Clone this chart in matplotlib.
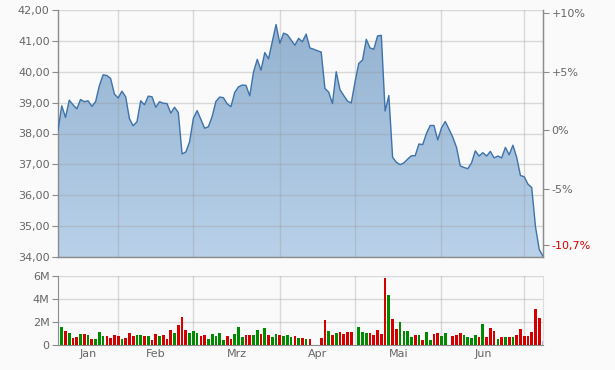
import numpy as np
import matplotlib
matplotlib.use("Agg")
import matplotlib.pyplot as plt
from matplotlib.patches import Polygon
from matplotlib.colors import LinearSegmentedColormap

# ---------------- data ----------------
prices = [
    38.10, 38.90, 38.52, 39.08, 38.93, 38.80, 39.10, 39.03, 39.06, 38.88,
    39.03, 39.55, 39.90, 39.88, 39.78, 39.28, 39.15, 39.37, 39.19, 38.48,
    38.25, 38.38, 39.06, 38.93, 39.21, 39.19, 38.85, 39.03, 38.98, 38.97,
    38.66, 38.85, 38.68, 37.34, 37.40, 37.73, 38.49, 38.74, 38.46, 38.17,
    38.22, 38.55, 39.04, 39.18, 39.16, 38.96, 38.87, 39.33, 39.51, 39.57,
    39.56, 39.22, 39.99, 40.40, 40.05, 40.62, 40.42, 40.98, 41.53, 40.92,
    41.25, 41.20, 41.03, 40.86, 41.08, 40.97, 41.22, 40.77, 40.73, 40.68,
    40.64, 39.46, 39.34, 38.97, 40.00, 39.42, 39.23, 39.05, 38.99, 39.67,
    40.27, 40.38, 41.05, 40.77, 40.73, 41.16, 41.18, 38.73, 39.23, 37.23,
    37.07, 36.99, 37.05, 37.17, 37.28, 37.28, 37.66, 37.64, 38.00, 38.26,
    38.26, 37.79, 38.18, 38.39, 38.14, 37.88, 37.55, 36.95, 36.90, 36.86,
    37.05, 37.44, 37.27, 37.38, 37.27, 37.42, 37.21, 37.27, 37.21, 37.55,
    37.31, 37.62, 37.23, 36.64, 36.60, 36.36, 36.25, 34.98, 34.24, 34.03,
]

# volume in millions for trading days 1..129
volumes_m = [
    1.59, 1.19, 1.07, 0.64, 0.72, 0.99, 0.99, 0.90, 0.55, 0.55,
    1.16, 0.81, 0.81, 0.64, 0.90, 0.81, 0.55, 0.64, 1.07, 0.81,
    0.90, 0.90, 0.81, 0.81, 0.46, 0.99, 0.81, 0.90, 0.55, 1.33,
    1.07, 1.77, 2.46, 1.33, 1.07, 1.25, 1.07, 0.81, 0.90, 0.55,
    0.99, 0.81, 1.07, 0.46, 0.81, 0.55, 0.99, 1.59, 0.72, 0.90,
    0.90, 0.90, 1.33, 0.99, 1.51, 0.90, 0.72, 0.99, 0.90, 0.81,
    0.90, 0.72, 0.81, 0.64, 0.64, 0.55, 0.55, 0.00, 0.00, 0.64,
    2.20, 1.25, 0.90, 1.07, 1.16, 0.99, 1.16, 1.16, 0.00, 1.59,
    1.16, 1.07, 1.07, 0.90, 1.33, 0.99, 5.86, 4.38, 2.29, 1.42,
    2.03, 1.25, 1.25, 0.72, 0.90, 0.90, 0.46, 1.16, 0.46, 0.99,
    1.07, 0.81, 1.07, 0.00, 0.81, 0.90, 1.07, 0.90, 0.72, 0.64,
    0.90, 0.72, 1.86, 0.72, 1.51, 1.25, 0.55, 0.72, 0.72, 0.72,
    0.72, 0.90, 1.42, 0.81, 0.81, 1.16, 3.16, 2.38, 0.38,
]
# G = up day, R = down day, B = current day, - = no trading
vol_dir = (
    "GRGRRGRGRG" "GGRRRRGRRR" "GGRGRRGRRR" "GRRRGGGRRG" "GGGGRRGGGR"
    "RGGRGRGGRG" "GGRGRGR--R" "RGRGRRRR-G" "GGRRRRRGRR" "GGGGRGRGGR"
    "RGG-RRRGGG" "GRGRRRGRGR" "GRRRRRRRB"
)

month_labels = ["Jan", "Feb", "Mrz", "Apr", "Mai", "Jun"]
month_starts = [16, 36, 59, 79, 102, 124]   # trading-day index of first day of month
pct_levels = [10, 5, 0, -5]

# ---------------- style ----------------
BG = "#fafafa"
GRID = "#999999"
SPINE = "#8c8c8c"
TXT = "#666666"
LINE = "#3d72ab"
dir_colors = {"G": "#008a00", "R": "#d40000", "B": "#9dbde0", "-": "#ffffff"}

plt.rcParams["font.family"] = ["DejaVu Sans"]
plt.rcParams["font.size"] = 8

W, H = 615, 370
fig = plt.figure(figsize=(W / 100, H / 100), dpi=100, facecolor=BG)
ax = fig.add_axes([58 / W, 1 - 257 / H, 485 / W, 247 / H])
axv = fig.add_axes([58 / W, 1 - 345 / H, 485 / W, 69 / H])

n = len(prices)
x = np.arange(n)
ylo, yhi = 34, 42

# ---------------- price panel ----------------
ax.set_facecolor(BG)
ax.set_xlim(0, n - 1)
ax.set_ylim(ylo, yhi)

verts = [(0, ylo)] + list(zip(x, prices)) + [(n - 1, ylo)]
poly = Polygon(verts, closed=True, facecolor="none", edgecolor="none")
ax.add_patch(poly)
cmap = LinearSegmentedColormap.from_list("g", ["#92b1d0", "#b9d1e9"])
grad = np.linspace(0, 1, 256).reshape(-1, 1)
im = ax.imshow(grad, extent=[0, n - 1, ylo, yhi], aspect="auto", cmap=cmap,
               origin="upper", zorder=1, interpolation="bilinear")
im.set_clip_path(poly)
ax.plot(x, prices, color=LINE, lw=1.0, zorder=3)

for yv in range(ylo, yhi + 1):
    ax.axhline(yv, color=GRID, lw=1, alpha=0.35, zorder=2)
for xm in month_starts:
    ax.axvline(xm, color=GRID, lw=1, alpha=0.35, zorder=2)

ax.set_yticks(range(ylo, yhi + 1))
ax.set_yticklabels([f"{v:.2f}".replace(".", ",") for v in range(ylo, yhi + 1)])
ax.set_xticks([])
ax.tick_params(axis="y", direction="out", length=4, color=SPINE, labelcolor=TXT,
               labelsize=8, pad=2)
ax.spines["top"].set_visible(False)
for s in ("left", "bottom", "right"):
    ax.spines[s].set_color(SPINE)
    ax.spines[s].set_linewidth(1)

# right percentage axis
ref = prices[0]
last_pct = (prices[-1] / ref - 1) * 100
axr = ax.twinx()
axr.set_ylim(ylo, yhi)
r_pos = [ref * (1 + p / 100) for p in pct_levels]
r_lab = [("+" if p > 0 else "") + f"{p}%" for p in pct_levels]
last_pos = max(prices[-1], ylo + 0.38)
axr.set_yticks(r_pos + [last_pos])
axr.set_yticklabels(r_lab + [f"{last_pct:.1f}%".replace(".", ",")])
axr.tick_params(axis="y", direction="out", length=4, color=SPINE, labelcolor=TXT,
                labelsize=8, pad=2)
axr.get_yticklabels()[-1].set_color("#d40000")
for s in ("top", "left", "bottom"):
    axr.spines[s].set_visible(False)
axr.spines["right"].set_color(SPINE)

# ---------------- volume panel ----------------
axv.set_facecolor(BG)
axv.set_xlim(0, n - 1)
axv.set_ylim(0, 6e6)
vx = np.arange(1, len(volumes_m) + 1)
vcol = [dir_colors[c] for c in vol_dir]
axv.bar(vx, np.array(volumes_m) * 1e6, width=0.72, color=vcol, zorder=3, linewidth=0)

for yv in (2e6, 4e6, 6e6):
    axv.axhline(yv, color=GRID, lw=1, alpha=0.35, zorder=1)
for xm in month_starts:
    axv.axvline(xm, color=GRID, lw=1, alpha=0.35, zorder=1)

axv.set_yticks([0, 2e6, 4e6, 6e6])
axv.set_yticklabels(["0", "2M", "4M", "6M"])
edges = [0] + month_starts
mids = [(a + b) / 2 for a, b in zip(edges[:-1], edges[1:])]
axv.set_xticks(mids)
axv.set_xticklabels(month_labels)
axv.tick_params(axis="y", direction="out", length=4, color=SPINE, labelcolor=TXT,
                labelsize=8, pad=2)
axv.tick_params(axis="x", length=0, labelcolor=TXT, labelsize=8, pad=3)
axv.spines["top"].set_visible(False)
axv.spines["right"].set_color("#dcdcdc")
for s in ("left", "bottom"):
    axv.spines[s].set_color(SPINE)

fig.savefig("out.png", dpi=100, facecolor=BG)
